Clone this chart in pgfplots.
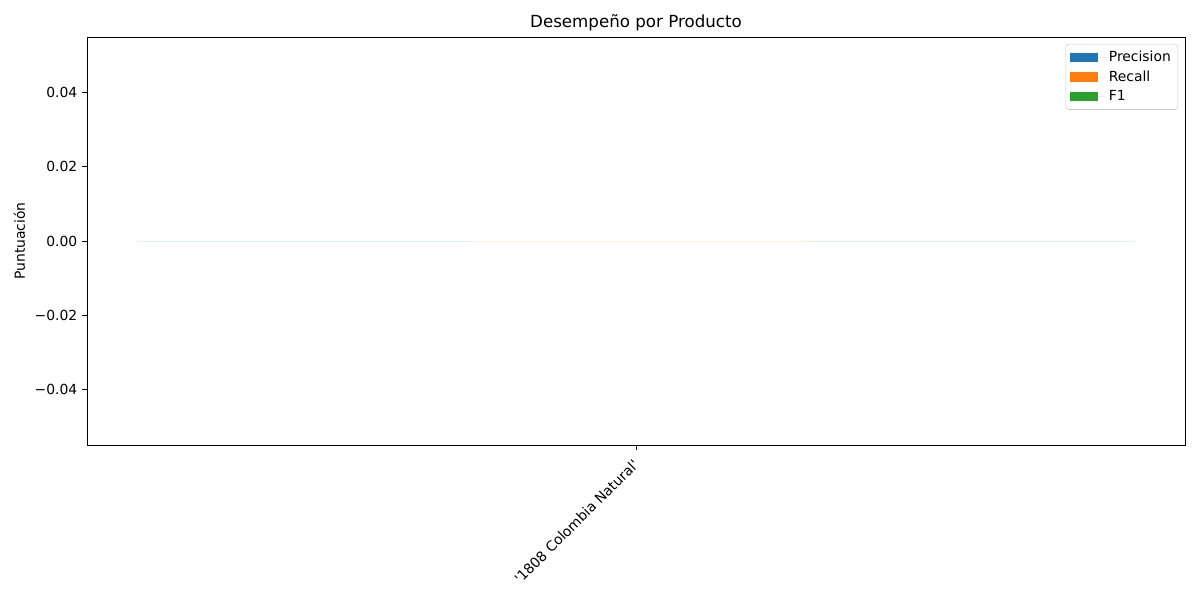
\documentclass[border=0pt]{standalone}
\usepackage{pgfplots}
\pgfplotsset{compat=1.18}
\usepackage{fontspec}
\setmainfont{DejaVu Sans}
\definecolor{c0}{HTML}{1F77B4}
\definecolor{c1}{HTML}{FF7F0E}
\definecolor{c2}{HTML}{2CA02C}
\begin{document}
\begin{tikzpicture}
\begin{axis}[
  name=ax,
  at={(0,0)}, anchor=south west,
  scale only axis,
  width=790.56pt, height=293.76pt,
  xmin=-0.4125, xmax=0.4125,
  ymin=-0.055, ymax=0.055,
  scaled y ticks=false,
  xtick={0}, xticklabels={\textquotesingle 1808 Colombia Natural\textquotesingle},
  xticklabel style={rotate=45, anchor=north east, font=\fontsize{10}{12}\selectfont, inner sep=2pt, xshift=-4pt},
  ytick={-0.04,-0.02,0,0.02,0.04},
  yticklabels={−0.04,−0.02,0.00,0.02,0.04},
  yticklabel style={font=\fontsize{10}{12}\selectfont},
  tick align=outside, major tick length=3.5pt,
  xtick pos=bottom, ytick pos=left,
  axis line style={line width=0.6pt},
  tick style={line width=0.6pt, black},
  title={Desempeño por Producto},
  title style={font=\fontsize{12}{14}\selectfont, yshift=-5pt},
  ylabel={Puntuación},
  ylabel style={font=\fontsize{10}{12}\selectfont},
  legend style={at={(1,1)}, xshift=-5pt, yshift=-5pt, anchor=north east,
    draw=black!20, rounded corners=2pt, font=\fontsize{10}{12}\selectfont,
    row sep=1pt, inner sep=3pt},
  legend cell align=left,
  legend image code/.code={\fill[#1, sharp corners] (0pt,-3.5pt) rectangle (20pt,3.5pt);
     \path (0pt,0pt) -- (26pt,0pt);},
]
\addplot[ybar, bar width=0.25, bar shift=-0.25, fill=c0, draw=none] coordinates {(0,0)};
\addplot[ybar, bar width=0.25, bar shift=0, fill=c1, draw=none] coordinates {(0,0)};
\addplot[ybar, bar width=0.25, bar shift=0.25, fill=c2, draw=none] coordinates {(0,0)};
\legend{Precision,Recall,F1}
\end{axis}
\pgfresetboundingbox
\path (ax.south west) ++(-62.64pt,-111.6pt) rectangle ++(864pt,432pt);
\end{tikzpicture}
\end{document}
